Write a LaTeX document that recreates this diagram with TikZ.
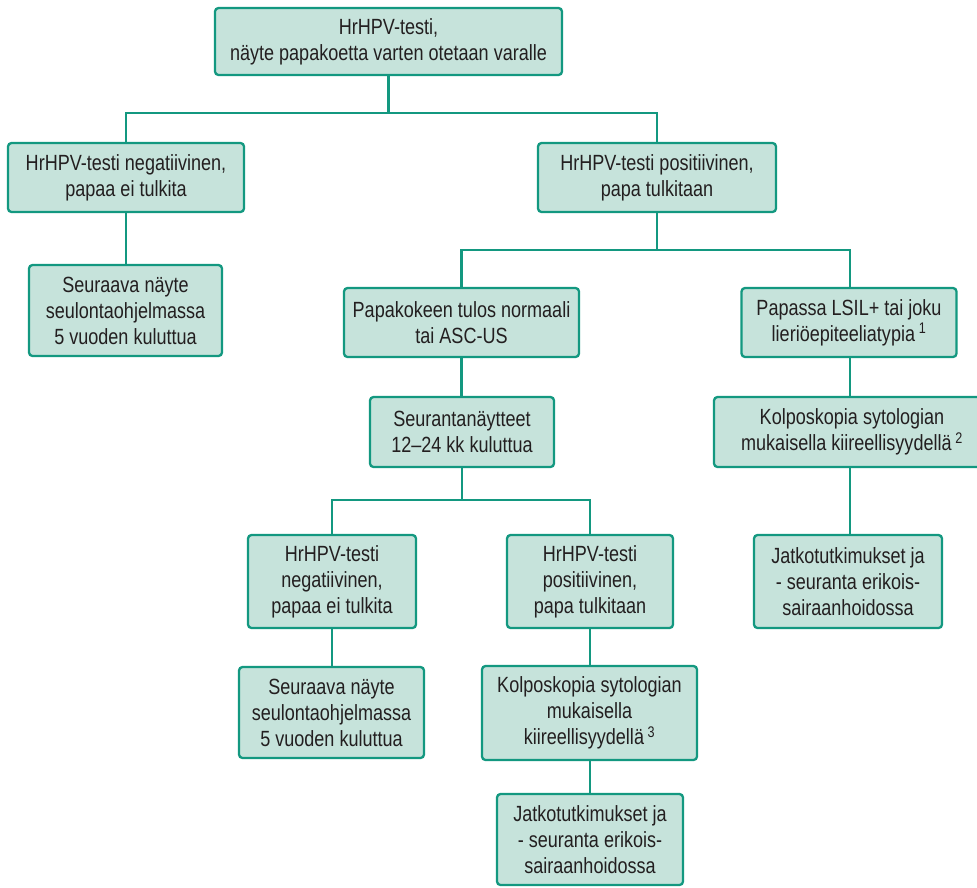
\documentclass[tikz,border=0pt]{standalone}
\usepackage{fontspec}
\setmainfont{Liberation Sans}[FakeStretch=0.82]
\definecolor{bd}{HTML}{139880}
\definecolor{fl}{HTML}{C6E3DB}
\definecolor{tx}{HTML}{231F20}
\begin{document}
\begin{tikzpicture}[x=1pt,y=-1pt,
  box/.style={draw=bd, fill=fl, line width=2.3pt, rounded corners=3.5pt, align=center,
    font=\fontsize{22}{26}\selectfont, text=tx, inner sep=0pt},
  ln/.style={draw=bd, line width=2.8pt, line join=miter}]
\useasboundingbox (0,0) rectangle (977,887);
\clip (0,0) rectangle (977,887);
\node[box, minimum width=347pt, minimum height=67pt] (top) at (388.5,41.5) {HrHPV-testi,\\näyte papakoetta varten otetaan varalle};
\node[box, minimum width=236pt, minimum height=69pt] (negL) at (126,177.5) {HrHPV-testi negatiivinen,\\papaa ei tulkita};
\node[box, minimum width=193pt, minimum height=91pt] (nextL) at (125.5,310.5) {Seuraava näyte\\seulontaohjelmassa\\5 vuoden kuluttua};
\node[box, minimum width=238pt, minimum height=69pt] (posR) at (657,177.5) {HrHPV-testi positiivinen,\\papa tulkitaan};
\node[box, minimum width=235pt, minimum height=69pt] (papa) at (461.5,322.5) {Papakokeen tulos normaali\\tai ASC-US};
\node[box, minimum width=215pt, minimum height=69pt] (lsil) at (849,322.5) {Papassa LSIL+ tai joku\\lieriöepiteeliatypia\,\textsuperscript{1}};
\node[box, minimum width=184pt, minimum height=70pt] (seur) at (462,432) {Seurantanäytteet\\12–24 kk kuluttua};
\node[box, minimum width=276pt, minimum height=70pt] (kolR) at (852,432) {Kolposkopia sytologian\\mukaisella kiireellisyydellä\,\textsuperscript{2}\hspace{18pt}};
\node[box, minimum width=188pt, minimum height=93pt] (jatR) at (848,581.5) {Jatkotutkimukset ja\\- seuranta erikois-\\sairaanhoidossa};
\node[box, minimum width=168pt, minimum height=93pt] (negB) at (332,581.5) {HrHPV-testi\\negatiivinen,\\papaa ei tulkita};
\node[box, minimum width=166pt, minimum height=93pt] (posB) at (590,581.5) {HrHPV-testi\\positiivinen,\\papa tulkitaan};
\node[box, minimum width=185pt, minimum height=91pt] (seurB) at (331.5,712.5) {Seuraava näyte\\seulontaohjelmassa\\5 vuoden kuluttua};
\node[box, minimum width=215pt, minimum height=94pt] (kolB) at (589.5,713) {Kolposkopia sytologian\\mukaisella\\kiireellisyydellä\,\textsuperscript{3}};
\node[box, minimum width=186pt, minimum height=91pt] (jatB) at (590,839.5) {Jatkotutkimukset ja\\- seuranta erikois-\\sairaanhoidossa};
\coordinate (j1) at (388.5,113);
\coordinate (j2) at (657,250);
\coordinate (j3) at (462,500);
\draw[ln] (top.south) -- (j1);
\draw[ln] (negL.north) -- (negL.north |- j1) -- (posR.north |- j1) -- (posR.north);
\draw[ln] (negL.south) -- (nextL.north -| negL.south);
\draw[ln] (posR.south) -- (j2);
\draw[ln] (papa.north) -- (papa.north |- j2) -- (850,250) -- (850,288);
\draw[ln] (papa.south) -- (seur.north -| papa.south);
\draw[ln] (seur.south) -- (j3);
\draw[ln] (negB.north) -- (negB.north |- j3) -- (posB.north |- j3) -- (posB.north);
\draw[ln] (negB.south) -- (seurB.north -| negB.south);
\draw[ln] (posB.south) -- (kolB.north -| posB.south);
\draw[ln] (kolB.south -| posB.south) -- (jatB.north -| posB.south);
\draw[ln] (850,357) -- (850,397);
\draw[ln] (850,467) -- (850,535);
\end{tikzpicture}
\end{document}
